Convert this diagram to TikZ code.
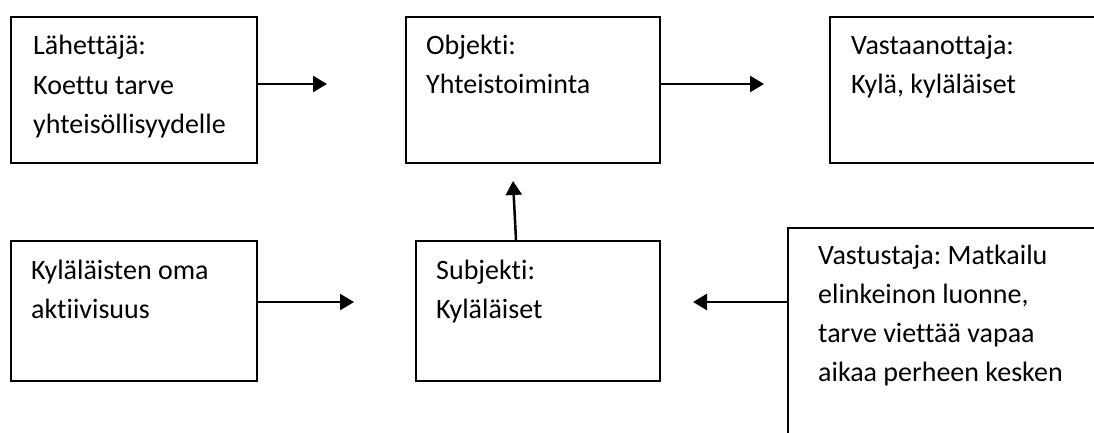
\documentclass[tikz,border=0pt]{standalone}
\usepackage{fontspec}
\setmainfont{Carlito}[RawFeature=-liga]
\usetikzlibrary{arrows.meta}
\begin{document}
\frenchspacing
\begin{tikzpicture}[x=1pt,y=-1pt,
  box/.style={draw=black,line width=2.2pt,rectangle,inner sep=0pt,anchor=north west},
  txt/.style={anchor=base west,inner sep=0pt,align=left,font=\frenchspacing\fontsize{28}{39}\selectfont,text=black},
  arr/.style={line width=2.5pt,-{Triangle[length=14pt,width=16pt]}}]
\clip (0,0) rectangle (1094,433);
\fill[white] (0,0) rectangle (1094,433);
% boxes
\node[box,minimum width=246pt,minimum height=146pt] (lah) at (10,16) {};
\node[box,minimum width=254pt,minimum height=146pt] (obj) at (405,16) {};
\node[box,minimum width=300pt,minimum height=146pt] (vas) at (829,16) {};
\node[box,minimum width=246pt,minimum height=140pt] (kyl) at (10,240) {};
\node[box,minimum width=244pt,minimum height=140pt] (sub) at (415,240) {};
\node[box,minimum width=320pt,minimum height=230pt] (vst) at (787,227) {};
% texts (anchored at the baseline of their last line)
\node[txt] (tlah) at (33,133) {Lähettäjä:\\Koettu tarve\\yhteisöllisyydelle};
\node[txt] (tobj) at (426,94) {Objekti:\\Yhteistoiminta};
\node[txt] (tvas) at (851,94) {Vastaanottaja:\\Kylä, kyläläiset};
\node[txt] (tkyl) at (31,318) {Kyläläisten oma\\aktiivisuus};
\node[txt] (tsub) at (436,318) {Subjekti:\\Kyläläiset};
\node[txt] (tvst) at (818,381) {Vastustaja: Matkailu\\elinkeinon luonne,\\tarve viettää vapaa\\aikaa perheen kesken};
% arrow ends
\coordinate (e1) at (327,84);
\coordinate (e2) at (764,84);
\coordinate (e3) at (354,302);
\coordinate (e4) at (693,302);
\coordinate (e5) at (513,181);
\coordinate (s5) at (516,240);
\draw[arr] (lah.east |- e1) -- (e1);
\draw[arr] (obj.east |- e2) -- (e2);
\draw[arr] (kyl.east |- e3) -- (e3);
\draw[arr] (vst.west |- e4) -- (e4);
\draw[arr] (s5) -- (e5);
\end{tikzpicture}
\end{document}
